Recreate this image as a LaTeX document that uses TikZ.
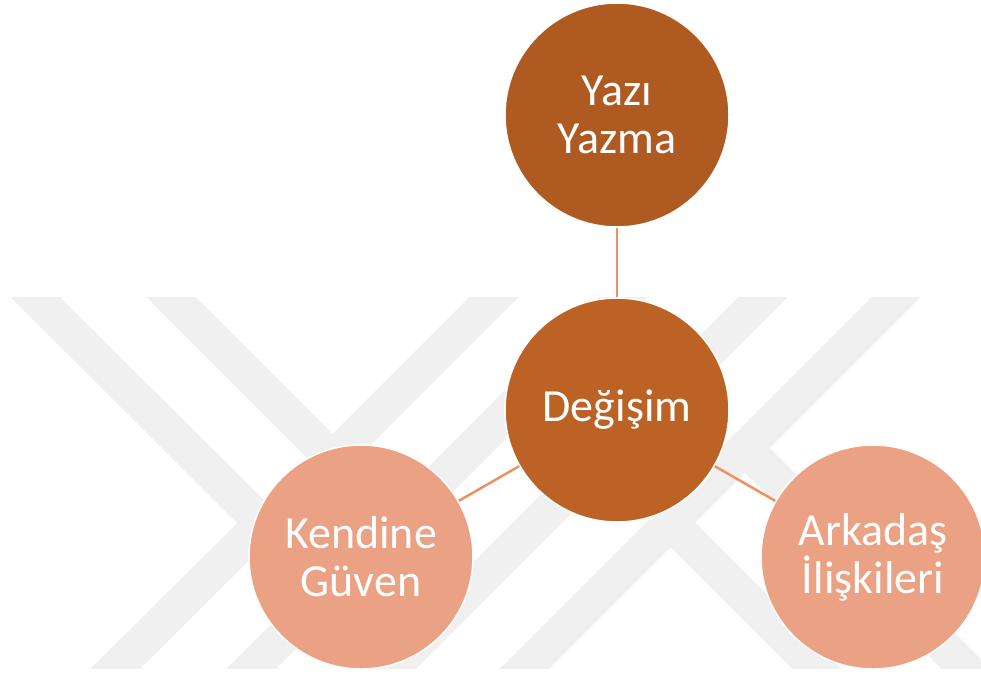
\documentclass[tikz,border=0pt]{standalone}
\usepackage{fontspec}
\setmainfont{Carlito}
\definecolor{wm}{RGB}{240,240,240}
\definecolor{topc}{RGB}{174,90,33}
\definecolor{midc}{RGB}{188,98,37}
\definecolor{sidec}{RGB}{235,161,132}
\definecolor{linkc}{RGB}{240,145,100}
\begin{document}
\begin{tikzpicture}[x=1pt,y=-1pt,
  bubble/.style={circle,minimum size=224pt,inner sep=0pt,draw=white,line width=1.5pt,text=white,align=center,font=\fontsize{46}{48}\selectfont},
  link/.style={draw=linkc,line width=2.5pt},
  stripe/.style={draw=wm,line width=35pt,line join=miter,line cap=butt}]
\useasboundingbox (0,0) rectangle (981,675);
\begin{scope}
  \clip (0,297) rectangle (981,668);
  \draw[stripe] (16,278) -- (262,523) -- (96,688);
  \draw[stripe] (152,278) -- (332.5,458.5) -- (513,278);
  \draw[stripe] (233,687) -- (642,278);
  \draw[stripe] (372,688) -- (782,278);
  \draw[stripe] (505,688) -- (745,448);
  \draw[stripe] (915,278) -- (745,448) -- (985,688);
  \draw[stripe] (670.5,522.5) -- (836,688);
\end{scope}
\node[bubble,fill=topc] (top) at (617,115) {Yazı\\Yazma};
\node[bubble,fill=midc] (mid) at (617,410) {Değişim};
\node[bubble,fill=sidec] (left) at (361,557) {Kendine\\Güven};
\node[bubble,fill=sidec] (right) at (873,557) {Arkadaş\\İlişkileri};
\draw[link] (top) -- (mid);
\draw[link] (mid) -- (left);
\draw[link] (mid) -- (right);
\end{tikzpicture}
\end{document}
